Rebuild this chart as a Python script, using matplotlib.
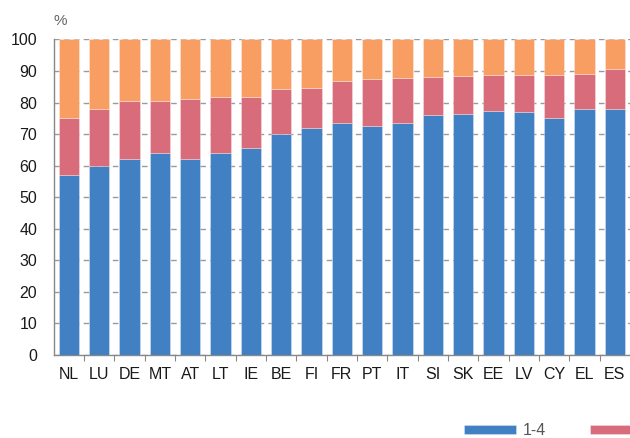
import matplotlib
matplotlib.use("Agg")
import matplotlib.pyplot as plt
import numpy as np

plt.rcParams['font.family'] = ['Liberation Sans', 'DejaVu Sans']

countries = ["NL", "LU", "DE", "MT", "AT", "LT", "IE", "BE", "FI", "FR",
             "PT", "IT", "SI", "SK", "EE", "LV", "CY", "EL", "ES"]
# shares by size class, in % (cumulative to 100)
size_1_4 = [57.0, 60.0, 62.0, 64.0, 62.0, 64.0, 65.5, 70.0, 71.8, 73.4,
            72.6, 73.6, 76.2, 76.5, 77.3, 77.1, 75.1, 77.9, 77.9]
size_5_9 = [18.0, 17.9, 18.5, 16.5, 19.0, 17.7, 16.4, 14.2, 12.8, 13.3,
            14.8, 14.2, 12.0, 12.0, 11.5, 11.7, 13.7, 11.3, 12.6]
size_10_plus = [100 - a - b for a, b in zip(size_1_4, size_5_9)]
legend_labels = ["1-4", ""]

colors = ["#4180C2", "#D86C7A", "#F89E62"]

fig = plt.figure(figsize=(6.3, 4.38), dpi=100)
ax = fig.add_axes([0.0852, 0.1895, 0.9148, 0.7205])

x = np.arange(len(countries))
width = 0.66
bottom = np.zeros(len(countries))
handles = []
for vals, col in zip([size_1_4, size_5_9, size_10_plus], colors):
    h = ax.bar(x, vals, width, bottom=bottom, color=col,
               edgecolor=(1, 1, 1, 0.35), linewidth=0.6, zorder=3)
    handles.append(h)
    bottom += np.array(vals)

ax.set_xlim(-0.5, len(countries) - 0.5)
ax.set_ylim(0, 100)
ax.set_yticks(np.arange(0, 101, 10))
ax.set_xticks(x)
ax.set_xticklabels(countries)
ax.set_xticks(np.arange(0.5, len(countries) - 1, 1), minor=True)

ax.tick_params(axis='x', which='major', length=0, pad=9, labelsize=11.5, labelcolor="#1a1a1a")
ax.tick_params(axis='x', which='minor', length=4, width=0.8, color="#888888", direction='out')
ax.tick_params(axis='y', which='major', length=0, pad=12, labelsize=11.5, labelcolor="#1a1a1a")

ax.yaxis.grid(True, color="#9a9a9a", linestyle=(0, (4, 3)), linewidth=1.0, zorder=0)
ax.set_axisbelow(True)

for s in ["top", "right"]:
    ax.spines[s].set_visible(False)
for s in ["left", "bottom"]:
    ax.spines[s].set_color("#888888")
    ax.spines[s].set_linewidth(1.0)

fig.text(0.0857, 0.952, "%", fontsize=11, color="#666666", va="center", ha="left")

fig.legend(handles=handles[:2], labels=legend_labels, loc="center left",
           bbox_to_anchor=(0.7365, 0.017), ncol=2, frameon=False,
           fontsize=11.5, labelcolor="#555555", borderpad=0, borderaxespad=0,
           handlelength=3.25, handleheight=0.5, handletextpad=0.45,
           columnspacing=2.75)

fig.savefig("out.png", dpi=100)
